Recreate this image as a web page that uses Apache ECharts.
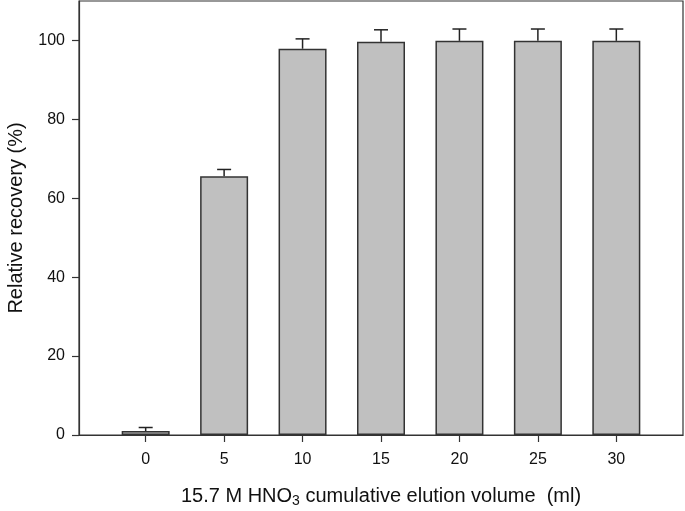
<!DOCTYPE html>
<html>
<head>
<meta charset="utf-8">
<script src="https://cdn.jsdelivr.net/npm/echarts@6/dist/echarts.min.js"></script>
<style>html,body{margin:0;padding:0;background:#fff}#c{width:685px;height:511px}</style>
</head>
<body>
<div id="c"></div>
<script>
const volumes = [0, 5, 10, 15, 20, 25, 30];
const recovery = [1.0, 65.6, 97.9, 99.7, 99.9, 99.9, 99.9];
const errors = [0.9, 1.7, 2.5, 3.0, 3.0, 3.0, 3.0];
const xTicks = [0, 5, 10, 15, 20, 25, 30];
const yTicks = [0, 20, 40, 60, 80, 100];

const chart = echarts.init(document.getElementById('c'));
const barData = volumes.map((v, i) => [v, recovery[i]]);
const errData = volumes.map((v, i) => [v, recovery[i], recovery[i] + errors[i]]);
const font = '"Liberation Sans", Arial, sans-serif';

chart.setOption({
  animation: false,
  grid: { left: 79, right: 2, top: 1, bottom: 76, outerBoundsMode: 'none', containLabel: false, show: true, borderColor: '#333', borderWidth: 1.2, backgroundColor: 'transparent' },
  xAxis: {
    type: 'value', min: -4.25, max: 34.25,
    splitLine: { show: false },
    axisLine: { onZero: false, lineStyle: { color: '#333', width: 1.2 } },
    axisTick: { show: true, length: 7, lineStyle: { color: '#333', width: 1.2 }, customValues: xTicks },
    axisLabel: { customValues: xTicks, margin: 17, color: '#111', fontSize: 16, fontFamily: font },
    name: '{a|15.7 M HNO}{s|3}{a| cumulative elution volume  (ml)}',
    nameLocation: 'middle', nameGap: 49,
    nameTextStyle: {
      rich: {
        a: { fontSize: 20, fontFamily: font, color: '#111' },
        s: { fontSize: 14, fontFamily: font, color: '#111', verticalAlign: 'bottom', padding: [10, 0, 0, 0] }
      }
    }
  },
  yAxis: {
    type: 'value', min: 0, max: 110,
    splitLine: { show: false },
    axisLine: { show: true, onZero: false, lineStyle: { color: '#333', width: 1.2 } },
    axisTick: { show: true, length: 7, lineStyle: { color: '#333', width: 1.2 }, customValues: yTicks },
    axisLabel: { customValues: yTicks, margin: 14, color: '#111', fontSize: 16, fontFamily: font },
    name: 'Relative recovery (%)', nameLocation: 'middle', nameGap: 53,
    nameTextStyle: { fontSize: 20, fontFamily: font, color: '#111' }
  },
  series: [
    {
      type: 'custom',
      data: errData,
      z: 1,
      renderItem: function (params, api) {
        const x = api.value(0);
        const top = api.coord([x, api.value(1)]);
        const cap = api.coord([x, api.value(2)]);
        return {
          type: 'group',
          children: [
            { type: 'line', shape: { x1: top[0], y1: top[1], x2: cap[0], y2: cap[1] }, style: { stroke: '#222', lineWidth: 1.5 } },
            { type: 'line', shape: { x1: cap[0] - 7, y1: cap[1], x2: cap[0] + 7, y2: cap[1] }, style: { stroke: '#222', lineWidth: 1.5 } }
          ]
        };
      }
    },
    {
      type: 'bar',
      data: barData,
      barWidth: 48,
      z: 2,
      itemStyle: { color: '#c0c0c0', borderColor: '#333', borderWidth: 1.5 }
    }
  ]
});
</script>
</body>
</html>
